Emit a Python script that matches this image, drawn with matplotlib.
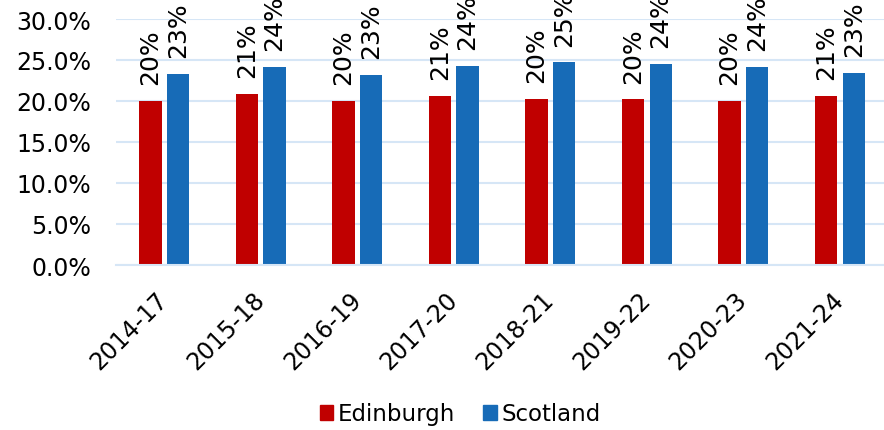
import matplotlib.pyplot as plt
from matplotlib.patches import Patch
import numpy as np

years = ['2014-17', '2015-18', '2016-19', '2017-20', '2018-21', '2019-22', '2020-23', '2021-24']
edinburgh = [20.0, 20.9, 20.0, 20.6, 20.3, 20.2, 20.0, 20.6]
scotland = [23.3, 24.2, 23.2, 24.3, 24.7, 24.5, 24.2, 23.4]

red = '#c00000'
blue = '#176bb7'
grid = '#d6e6f6'

plt.rcParams['font.family'] = ['DejaVu Sans']

fig = plt.figure(figsize=(8.84, 4.31), dpi=100)
ax = fig.add_axes([116/884, 165/431, 775/884, 246/431])

x = np.arange(len(years))
w = 0.23
off = 0.143
b1 = ax.bar(x - off, edinburgh, w, color=red)
b2 = ax.bar(x + off, scotland, w, color=blue)

for bars, vals in [(b1, edinburgh), (b2, scotland)]:
    for b, v in zip(bars, vals):
        ax.annotate('%d%%' % round(v), (b.get_x() + b.get_width()/2, v),
                    xytext=(0, 12), textcoords='offset points',
                    rotation=90, ha='center', va='bottom', fontsize=18,
                    color='#000000', annotation_clip=False)

ax.set_ylim(0, 30)
ax.set_xlim(-0.5, len(years) - 0.5 + 0.03)
ax.set_yticks(np.arange(0, 31, 5))
ax.set_yticklabels(['%.1f%%' % t for t in np.arange(0, 31, 5)], fontsize=17)
ax.set_xticks(x)
ax.set_xticklabels(years, rotation=45, ha='right', va='center',
                   rotation_mode='anchor', fontsize=17)
ax.tick_params(axis='both', length=0)
ax.tick_params(axis='x', pad=22)
ax.tick_params(axis='y', pad=18)
ax.yaxis.grid(True, color=grid, linewidth=1.5)
ax.set_axisbelow(True)
for s in ['top', 'right', 'left']:
    ax.spines[s].set_visible(False)
ax.spines['bottom'].set_color(grid)
ax.spines['bottom'].set_linewidth(1.5)

handles = [Patch(color=red, label='Edinburgh'), Patch(color=blue, label='Scotland')]
fig.legend(handles=handles, loc='center', bbox_to_anchor=(460/884, 1 - 415/431),
           ncol=2, frameon=False, fontsize=16.5, handlelength=0.6, handleheight=0.6,
           handletextpad=0.2, columnspacing=1.2)

fig.savefig('out.png', dpi=100)
